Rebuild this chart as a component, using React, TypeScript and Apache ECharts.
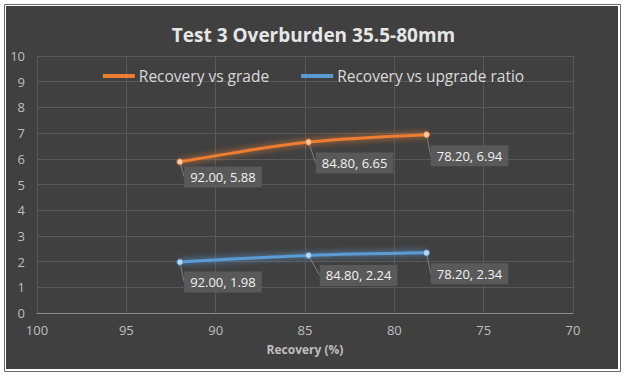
import React, { useEffect, useRef } from "react";
import * as echarts from "echarts";

const recovery: number[] = [92.0, 84.8, 78.2];
const grade: number[] = [5.88, 6.65, 6.94];
const upgradeRatio: number[] = [1.98, 2.24, 2.34];
const seriesNames: string[] = ["Recovery vs grade", "Recovery vs upgrade ratio"];
const titleText = "Test 3 Overburden 35.5-80mm";
const xAxisName = "Recovery (%)";

const FONT = "'Open Sans', 'Liberation Sans', sans-serif";

export default function App() {
  const ref = useRef<HTMLDivElement>(null);
  useEffect(() => {
    document.body.style.margin = "0";
    if (!ref.current) return;
    const chart = echarts.init(ref.current, null, { renderer: "svg" });
    const labelCfg = {
      show: true,
      position: "inside" as const,
      formatter: (p: any) =>
        `${Number(p.value[0]).toFixed(2)}, ${Number(p.value[1]).toFixed(2)}`,
      backgroundColor: "#595959",
      color: "#f2f2f2",
      fontFamily: FONT,
      fontSize: 13,
      padding: [4, 6],
    };
    const mk = (name: string, ys: number[], color: string, light: string, offs: number[][]) => ({
      name,
      type: "line",
      smooth: 0.3,
      data: recovery.map((x, i) => ({ value: [x, ys[i]] })),
      label: labelCfg,
      labelLayout: (p: any) => ({ dx: offs[p.dataIndex][0], dy: offs[p.dataIndex][1] }),
      symbol: "circle",
      symbolSize: 6,
      itemStyle: { color: light, borderColor: color, borderWidth: 1 },
      lineStyle: { color, width: 3, shadowBlur: 6, shadowColor: color },
      labelLine: { show: true, lineStyle: { color: "#7f7f7f", width: 1 } },
      z: 3,
    });
    chart.setOption({
      animation: false,
      backgroundColor: "transparent",
      graphic: [
        {
          type: "rect",
          shape: { x: 4.5, y: 4.5, width: 616, height: 367 },
          style: { fill: "#ffffff", stroke: "#6b6b6b", lineWidth: 1 },
          z: -10,
        },
        {
          type: "rect",
          shape: { x: 6, y: 6, width: 612, height: 363 },
          style: { fill: "#404040" },
          z: -9,
        },
      ],
      title: {
        text: titleText,
        left: "center",
        top: 20,
        textStyle: { color: "#e6e6e6", fontSize: 19, fontWeight: "bold", fontFamily: FONT },
      },
      legend: {
        top: 63,
        left: "center",
        itemGap: 32,
        itemWidth: 30,
        itemHeight: 10,
        textStyle: { color: "#d9d9d9", fontSize: 15.5, fontFamily: FONT },
        data: seriesNames.map((n, i) => ({
          name: n,
          icon: "path://M0,4 L30,4 L30,6 L0,6 Z",
          itemStyle: { color: i === 0 ? "#ED7D31" : "#5B9BD5" },
        })),
      },
      grid: { left: 37, right: 54, top: 56, bottom: 66, containLabel: false },
      xAxis: {
        type: "value",
        min: 70,
        max: 100,
        interval: 5,
        inverse: true,
        name: xAxisName,
        nameLocation: "middle",
        nameGap: 30,
        nameTextStyle: { color: "#bfbfbf", fontSize: 12, fontWeight: "bold", fontFamily: FONT },
        axisLine: { show: true, lineStyle: { color: "#8c8c8c", width: 1 } },
        axisTick: { show: false },
        axisLabel: { color: "#bfbfbf", fontSize: 13, margin: 10, fontFamily: FONT },
        splitLine: { show: true, lineStyle: { color: "#595959", width: 1 } },
      },
      yAxis: {
        type: "value",
        min: 0,
        max: 10,
        interval: 1,
        axisLine: { show: true, lineStyle: { color: "#595959" } },
        axisTick: { show: false },
        axisLabel: { color: "#bfbfbf", fontSize: 13, margin: 12, fontFamily: FONT },
        splitLine: { show: true, lineStyle: { color: "#595959", width: 1 } },
      },
      series: [
        mk(seriesNames[0], grade, "#ED7D31", "#f8cbad", [[43, 15], [46, 21], [43, 21]]),
        mk(seriesNames[1], upgradeRatio, "#5B9BD5", "#bdd7ee", [[43, 20], [50, 20], [43, 21]]),
      ],
    });
    return () => chart.dispose();
  }, []);
  return <div ref={ref} style={{ width: 627, height: 379, background: "#ffffff" }} />;
}
